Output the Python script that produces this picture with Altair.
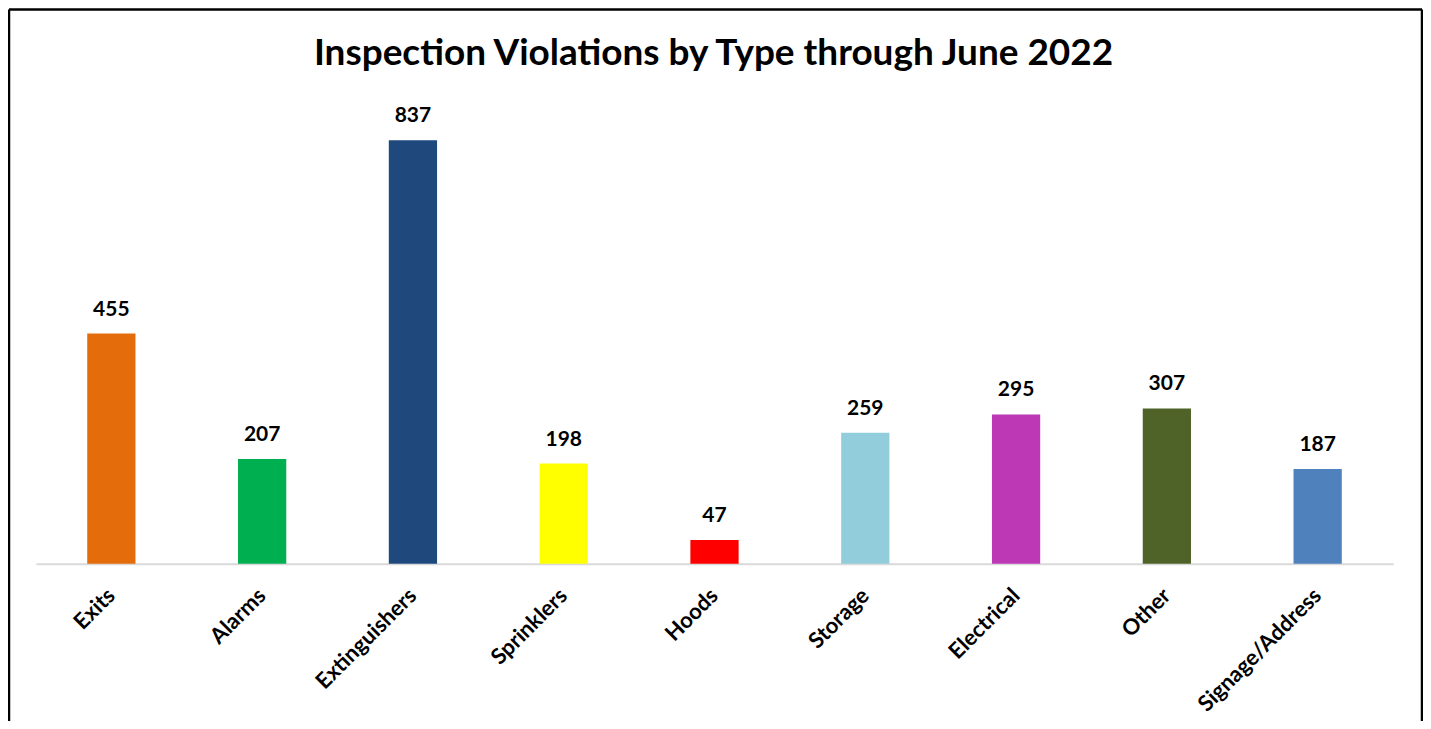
import altair as alt
import pandas as pd

categories = ["Exits", "Alarms", "Extinguishers", "Sprinklers", "Hoods",
              "Storage", "Electrical", "Other", "Signage/Address"]
values = [455, 207, 837, 198, 47, 259, 295, 307, 187]
colors = ["#E46C0A", "#00B050", "#1F497D", "#FFFF00", "#FF0000",
          "#92CDDC", "#BC38B4", "#4F6228", "#4F81BD"]
title_text = "Inspection Violations by Type through June 2022"

df = pd.DataFrame({"cat": categories, "val": values})

W, H = 1359, 456
FONT = "Lato"

x = alt.X("cat:N", sort=categories,
          scale=alt.Scale(paddingInner=0.68, paddingOuter=0.34),
          axis=alt.Axis(title=None, labelAngle=-45, labelAlign="right",
                        labelBaseline="middle", labelFontSize=22,
                        labelFontWeight="bold", labelColor="black",
                        labelFont=FONT, ticks=False, labelPadding=28,
                        domainColor="#D9D9D9", domainWidth=2))
y = alt.Y("val:Q", scale=alt.Scale(domain=[0, 900], nice=False), axis=None)

bars = alt.Chart(df).mark_bar().encode(
    x=x, y=y,
    color=alt.Color("cat:N", sort=categories,
                    scale=alt.Scale(domain=categories, range=colors),
                    legend=None),
)
labels = alt.Chart(df).mark_text(
    baseline="alphabetic", dy=-18, fontSize=21, fontWeight="bold",
    font=FONT, color="black"
).encode(x=alt.X("cat:N", sort=categories), y="val:Q", text="val:Q")

one = pd.DataFrame({"t": [title_text]})
title = alt.Chart(one).mark_text(
    fontSize=37, fontWeight="bold", font=FONT, color="black",
    baseline="alphabetic", align="center"
).encode(x=alt.value(W / 2 - 1), y=alt.value(-43), text="t:N")
left = alt.Chart(one).mark_rule(color="black", strokeWidth=2.5).encode(
    x=alt.value(-27), y=alt.value(-99), y2=alt.value(H + 300))
right = alt.Chart(one).mark_rule(color="black", strokeWidth=2.5).encode(
    x=alt.value(W + 29), y=alt.value(-99), y2=alt.value(H + 300))
top = alt.Chart(one).mark_rule(color="black", strokeWidth=2.5).encode(
    x=alt.value(-27), x2=alt.value(W + 29), y=alt.value(-99))

chart = alt.layer(bars, labels, title, left, right, top).properties(
    width=W, height=H,
    autosize=alt.AutoSizeParams(type="none"),
    padding={"left": 28, "top": 100, "right": 30, "bottom": 157},
).configure_view(stroke=None)

chart.save("out.html", embed_options={"renderer": "svg", "actions": False})
